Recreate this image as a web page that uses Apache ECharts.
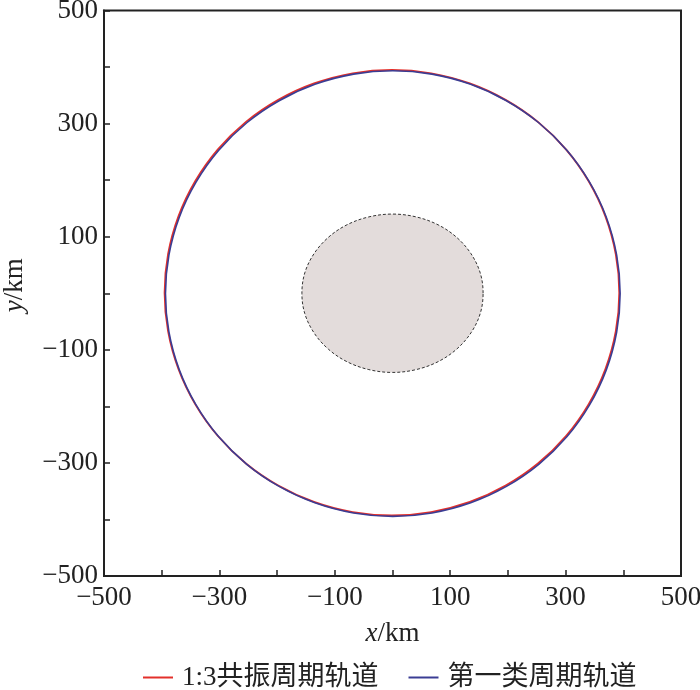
<!DOCTYPE html>
<html>
<head>
<meta charset="utf-8">
<script src="https://cdn.jsdelivr.net/npm/echarts@6/dist/echarts.min.js"></script>
<style>html,body{margin:0;padding:0;background:#fff;}#c{width:700px;height:690px;}</style>
</head>
<body>
<div id="c"></div>
<script>
// Orbit 1: 1:3 resonance periodic orbit (km) (closed loop)
var redX = [393,387,369,340,301,252,196,134,67,-1,-69,-136,-198,-254,-303,-342,-371,-389,-395,-389,-371,-342,-303,-254,-198,-136,-69,-1,67,134,196,252,301,340,369,387];
var redY = [1,69,136,198,254,303,342,371,389,395,389,371,342,303,254,198,136,69,1,-67,-134,-196,-252,-301,-340,-369,-387,-393,-387,-369,-340,-301,-252,-196,-134,-67];
// Orbit 2: first-kind periodic orbit (km) (closed loop)
var blueX = [394.5,388.5,370.5,341.5,302.5,253.5,197.5,135.5,68.5,0.5,-67.5,-134.5,-196.5,-252.5,-301.5,-340.5,-369.5,-387.5,-393.5,-387.5,-369.5,-340.5,-301.5,-252.5,-196.5,-134.5,-67.5,0.5,68.5,135.5,197.5,253.5,302.5,341.5,370.5,388.5];
var blueY = [-0.5,67.5,134.5,196.5,252.5,301.5,340.5,369.5,387.5,393.5,387.5,369.5,340.5,301.5,252.5,196.5,134.5,67.5,-0.5,-68.5,-135.5,-197.5,-253.5,-302.5,-341.5,-370.5,-388.5,-394.5,-388.5,-370.5,-341.5,-302.5,-253.5,-197.5,-135.5,-68.5];
// Central body outline (km)
var bodyX = [157,152,136,111,79,41,0,-41,-79,-111,-136,-152,-157,-152,-136,-111,-79,-41,0,41,79,111,136,152];
var bodyY = [0,36,70,99,121,135,140,135,121,99,70,36,0,-36,-70,-99,-121,-135,-140,-135,-121,-99,-70,-36];
var seriesNames = ['1:3共振周期轨道', '第一类周期轨道'];
var axisMin = -500, axisMax = 500, axisStep = 100;

var FONT = "'Liberation Serif','Times New Roman','Noto Sans CJK SC',serif";
var INK = '#222';
var RED = '#e3302b', BLUE = '#3a3d94';

function tickLabel(v) {
  if (Math.abs(v) % 200 !== 100) return '';
  return v < 0 ? '\u2212' + Math.abs(v) : String(v);
}

// closed smooth loop drawn through the axes' own coordinate mapping
function loopSeries(name, xs, ys, z, style) {
  return {
    type: 'custom', name: name, z: z, silent: true,
    itemStyle: { color: style.stroke || style.fill },
    data: xs.map(function (x, i) { return [x, ys[i]]; }),
    renderItem: function (params, api) {
      if (params.dataIndex !== 0) return null;
      var pts = xs.map(function (x, i) { return api.coord([x, ys[i]]); });
      return {
        type: 'polygon',
        shape: { points: pts, smooth: 0.35 },
        style: style
      };
    }
  };
}

var chart = echarts.init(document.getElementById('c'));
chart.setOption({
  backgroundColor: '#fff',
  animation: false,
  grid: { left: 104, right: 19, top: 10.5, bottom: 114, outerBoundsMode: 'none', containLabel: false, show: true, borderColor: INK, borderWidth: 2, backgroundColor: 'transparent' },
  legend: {
    top: 659, left: 138,
    data: seriesNames,
    itemWidth: 30, itemHeight: 2, itemGap: 30,
    icon: 'rect',
    textStyle: { fontFamily: FONT, fontSize: 27, color: INK, padding: [0, 0, 0, 4] }
  },
  xAxis: {
    type: 'value', min: axisMin, max: axisMax, interval: axisStep,
    name: '{i|x}/km', nameLocation: 'middle', nameGap: 44,
    nameTextStyle: { fontFamily: FONT, fontSize: 27, color: INK, rich: { i: { fontStyle: 'italic', fontFamily: FONT, fontSize: 27, color: INK } } },
    axisLine: { show: true, onZero: false, lineStyle: { color: INK, width: 2 } },
    axisTick: { show: true, inside: true, length: 6, lineStyle: { color: INK, width: 1.5 } },
    axisLabel: { formatter: tickLabel, fontFamily: FONT, fontSize: 27, color: INK, margin: 8 },
    splitLine: { show: false }
  },
  yAxis: {
    type: 'value', min: axisMin, max: axisMax, interval: axisStep,
    name: '{i|y}/km', nameLocation: 'middle', nameGap: 76, nameRotate: 90,
    nameTextStyle: { fontFamily: FONT, fontSize: 27, color: INK, padding: [0, 0, 0, 16], rich: { i: { fontStyle: 'italic', fontFamily: FONT, fontSize: 27, color: INK } } },
    axisLine: { show: true, onZero: false, lineStyle: { color: INK, width: 2 } },
    axisTick: { show: true, inside: true, length: 6, lineStyle: { color: INK, width: 1.5 } },
    axisLabel: { formatter: tickLabel, fontFamily: FONT, fontSize: 27, color: INK, margin: 6 },
    splitLine: { show: false }
  },
  series: [
    loopSeries('body', bodyX, bodyY, 1, { fill: '#e3dcdb', stroke: '#333', lineWidth: 1, lineDash: [3, 2] }),
    loopSeries(seriesNames[0], redX, redY, 3, { fill: 'none', stroke: RED, lineWidth: 1.8 }),
    loopSeries(seriesNames[1], blueX, blueY, 4, { fill: 'none', stroke: BLUE, lineWidth: 1.6 })
  ]
});
</script>
</body>
</html>
